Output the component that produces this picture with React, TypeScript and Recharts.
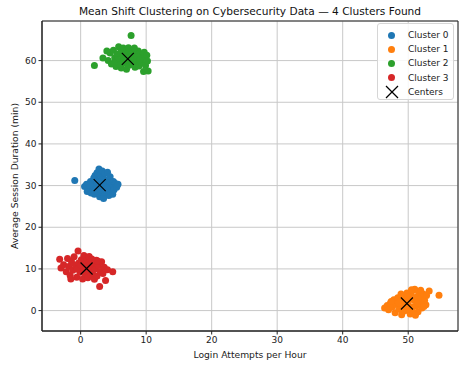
import { CartesianGrid, ReferenceArea, Scatter, ScatterChart, XAxis, YAxis } from "recharts";

type Pt = [number, number];

// points, [login attempts, session minutes]
const CLUSTER_0: Pt[] = [
  [-0.9, 31.2], [0.6, 29.8], [0.9, 30.3], [1.2, 29.4], [1.0, 28.6], [1.5, 31.0], [1.6, 28.2], [1.8, 30.6],
  [1.9, 29.1], [2.0, 31.8], [2.1, 27.9], [2.2, 32.4], [2.3, 30.0], [2.4, 28.7], [2.5, 33.1], [2.6, 31.2],
  [2.7, 29.5], [2.8, 34.0], [2.9, 27.3], [3.0, 32.6], [3.1, 30.8], [3.2, 28.4], [3.3, 33.5], [3.4, 29.9],
  [3.5, 31.7], [3.6, 27.8], [3.7, 32.9], [3.8, 30.4], [3.9, 28.9], [4.0, 31.3], [4.1, 33.2], [4.2, 29.3],
  [4.3, 27.6], [4.4, 30.9], [4.5, 32.1], [4.6, 28.5], [4.8, 30.2], [5.0, 31.0], [5.1, 29.0], [5.3, 30.5],
  [5.5, 29.6], [5.7, 30.3], [4.9, 27.9], [3.5, 26.9], [2.0, 29.6], [1.4, 30.1], [3.0, 29.0], [2.5, 30.6],
  [4.0, 29.4], [3.3, 31.4],
];
const CLUSTER_1: Pt[] = [
  [46.4, 0.6], [46.8, 1.2], [47.0, 0.2], [47.3, 1.8], [47.6, 0.9], [47.8, 2.6], [48.0, -0.5], [48.2, 1.5],
  [48.4, 3.1], [48.6, 0.3], [48.8, 2.2], [49.0, -1.0], [49.1, 1.0], [49.3, 3.5], [49.5, 2.0], [49.6, 0.0],
  [49.8, 4.2], [50.0, 1.4], [50.1, 2.8], [50.3, -0.8], [50.4, 3.8], [50.6, 0.8], [50.7, 4.8], [50.9, 2.4],
  [51.0, 5.1], [51.2, 1.1], [51.3, 3.3], [51.5, -0.3], [51.6, 4.5], [51.8, 2.0], [52.0, 3.0], [52.1, 0.6],
  [52.3, 4.0], [52.5, 2.5], [52.7, 1.4], [52.8, 3.6], [53.2, 4.7], [54.7, 3.7], [49.2, -0.2], [48.5, 1.9],
  [50.2, 0.3], [51.4, 1.8], [50.8, -0.5], [47.4, 2.2], [49.9, 3.3], [51.9, 4.9], [52.4, 1.0], [48.9, 4.0],
  [50.5, 5.0], [51.1, -1.1],
];
const CLUSTER_2: Pt[] = [
  [2.1, 58.8], [4.2, 60.0], [4.5, 61.8], [4.7, 59.2], [5.0, 62.5], [5.2, 60.7], [5.4, 58.6], [5.6, 61.5],
  [5.8, 63.3], [5.9, 59.8], [6.1, 62.0], [6.2, 58.2], [6.4, 60.9], [6.5, 63.0], [6.7, 59.4], [6.8, 61.7],
  [7.0, 57.9], [7.1, 62.6], [7.2, 60.2], [7.4, 58.9], [7.5, 61.2], [7.7, 66.0], [7.8, 59.6], [8.0, 62.1],
  [8.1, 60.6], [8.3, 58.4], [8.4, 61.5], [8.6, 59.9], [8.8, 62.3], [8.9, 58.7], [9.1, 61.0], [9.3, 59.5],
  [9.5, 60.8], [9.7, 62.0], [9.9, 58.8], [10.1, 61.3], [10.3, 57.5], [10.2, 59.9], [3.4, 60.6], [4.0, 62.3],
  [5.6, 60.2], [6.6, 60.0], [7.6, 60.9], [8.6, 61.0], [9.0, 60.2], [6.0, 59.0], [7.3, 63.1], [5.1, 59.4],
  [8.2, 63.0], [9.6, 57.4],
];
const CLUSTER_3: Pt[] = [
  [-3.2, 12.3], [-3.0, 10.2], [-2.6, 11.0], [-2.2, 9.3], [-2.0, 12.5], [-1.8, 10.6], [-1.6, 8.4], [-1.4, 11.8],
  [-1.2, 9.7], [-1.0, 12.9], [-0.8, 10.9], [-0.6, 8.0], [-0.4, 14.3], [-0.3, 11.4], [-0.1, 9.2], [0.1, 12.2],
  [0.2, 10.4], [0.3, 7.6], [0.5, 13.2], [0.6, 11.0], [0.7, 8.8], [0.9, 12.0], [1.0, 9.6], [1.1, 7.9],
  [1.2, 11.5], [1.3, 13.0], [1.5, 10.3], [1.6, 8.6], [1.7, 12.4], [1.8, 9.1], [2.0, 11.2], [2.1, 7.5],
  [2.2, 10.0], [2.4, 12.1], [2.5, 8.3], [2.7, 10.8], [2.9, 5.8], [3.0, 9.4], [3.2, 11.7], [3.4, 8.9],
  [3.6, 10.4], [3.8, 7.2], [4.1, 9.8], [4.9, 9.3], [-1.5, 7.6], [0.4, 9.9], [1.4, 11.0], [-0.5, 10.0],
  [2.6, 11.9], [0.0, 11.0],
];
const CENTERS: Pt[] = [[2.9, 30.1], [49.8, 1.7], [7.2, 60.4], [0.9, 10.1]];

const CLUSTER_NAMES = ["Cluster 0", "Cluster 1", "Cluster 2", "Cluster 3"];
const COLORS = ["#1f77b4", "#ff7f0e", "#2ca02c", "#d62728"];
const X_TICKS = [0, 10, 20, 30, 40, 50];
const Y_TICKS = [0, 10, 20, 30, 40, 50, 60];
const X_DOMAIN: Pt = [-5.9, 57.6];
const Y_DOMAIN: Pt = [-4.9, 69.5];

const FONT = "'DejaVu Sans', sans-serif";
const LABEL_SIZE = 9.2;
const toRows = (pts: Pt[]) => pts.map(([x, y]) => ({ x, y }));
const clusters = [CLUSTER_0, CLUSTER_1, CLUSTER_2, CLUSTER_3].map(toRows);

const dot = (color: string) => (p: any) => <circle cx={p.cx} cy={p.cy} r={3.5} fill={color} />;

const cross = (p: any) => (
  <g stroke="#000" strokeWidth={1.2}>
    <line x1={p.cx - 6} y1={p.cy - 6} x2={p.cx + 6} y2={p.cy + 6} />
    <line x1={p.cx - 6} y1={p.cy + 6} x2={p.cx + 6} y2={p.cy - 6} />
  </g>
);

function LegendBox() {
  return (
    <div
      style={{
        position: "absolute",
        left: 377,
        top: 23,
        width: 75,
        height: 75,
        border: "1px solid #d6d6d6",
        borderRadius: 3,
        background: "rgba(255,255,255,0.85)",
        fontFamily: FONT,
        fontSize: 9,
        color: "#222",
      }}
    >
      {CLUSTER_NAMES.map((name, i) => (
        <div key={name} style={{ position: "absolute", left: 0, top: 4 + i * 14.2, height: 14, display: "flex", alignItems: "center" }}>
          <span style={{ width: 7, height: 7, borderRadius: "50%", background: COLORS[i], marginLeft: 10 }} />
          <span style={{ marginLeft: 13 }}>{name}</span>
        </div>
      ))}
      <div style={{ position: "absolute", left: 0, top: 4 + 4 * 14.2, height: 14, display: "flex", alignItems: "center" }}>
        <svg width={14} height={14} style={{ marginLeft: 7 }}>
          <line x1={1} y1={1} x2={13} y2={13} stroke="#000" strokeWidth={1.2} />
          <line x1={1} y1={13} x2={13} y2={1} stroke="#000" strokeWidth={1.2} />
        </svg>
        <span style={{ marginLeft: 9 }}>Centers</span>
      </div>
    </div>
  );
}

export default function App() {
  const tick = { fill: "#222", fontSize: 9, fontFamily: FONT };
  return (
    <div style={{ position: "absolute", left: 0, top: 0, width: 469, height: 366, background: "#fff" }}>
      <div
        style={{
          position: "absolute",
          left: 42,
          width: 416,
          top: 4,
          lineHeight: "14px",
          textAlign: "center",
          fontFamily: FONT,
          fontSize: 10.6,
          color: "#111",
        }}
      >
        Mean Shift Clustering on Cybersecurity Data — 4 Clusters Found
      </div>
      <ScatterChart width={469} height={366} margin={{ top: 21, right: 11, bottom: 0, left: 0 }}>
        <CartesianGrid stroke="#c8c8c8" strokeWidth={1} />
        <XAxis
          type="number"
          dataKey="x"
          domain={X_DOMAIN}
          ticks={X_TICKS}
          allowDataOverflow
          height={35}
          tickSize={3.5}
          tickMargin={2}
          tick={tick}
          axisLine={{ stroke: "#222" }}
          tickLine={{ stroke: "#222" }}
          label={{
            content: ({ viewBox }: any) => (
              <text
                x={viewBox.x + viewBox.width / 2}
                y={viewBox.y + 23}
                textAnchor="middle"
                dominantBaseline="central"
                fontSize={LABEL_SIZE}
                fontFamily={FONT}
                fill="#222"
              >
                Login Attempts per Hour
              </text>
            ),
          }}
        />
        <YAxis
          type="number"
          dataKey="y"
          domain={Y_DOMAIN}
          ticks={Y_TICKS}
          allowDataOverflow
          width={42}
          tickSize={3.5}
          tickMargin={2}
          tick={tick}
          axisLine={{ stroke: "#222" }}
          tickLine={{ stroke: "#222" }}
          label={{
            content: ({ viewBox }: any) => {
              const cx = viewBox.x + 14.5;
              const cy = viewBox.y + viewBox.height / 2;
              return (
                <text
                  x={cx}
                  y={cy}
                  transform={`rotate(-90 ${cx} ${cy})`}
                  textAnchor="middle"
                  dominantBaseline="central"
                  fontSize={LABEL_SIZE}
                  fontFamily={FONT}
                  fill="#222"
                >
                  Average Session Duration (min)
                </text>
              );
            },
          }}
        />
        {clusters.map((rows, i) => (
          <Scatter key={CLUSTER_NAMES[i]} name={CLUSTER_NAMES[i]} data={rows} shape={dot(COLORS[i])} isAnimationActive={false} />
        ))}
        <Scatter name="Centers" data={toRows(CENTERS)} shape={cross} isAnimationActive={false} />
        <ReferenceArea
          x1={X_DOMAIN[0]}
          x2={X_DOMAIN[1]}
          y1={Y_DOMAIN[0]}
          y2={Y_DOMAIN[1]}
          fill="none"
          stroke="#222"
          strokeWidth={1}
        />
      </ScatterChart>
      <LegendBox />
    </div>
  );
}
